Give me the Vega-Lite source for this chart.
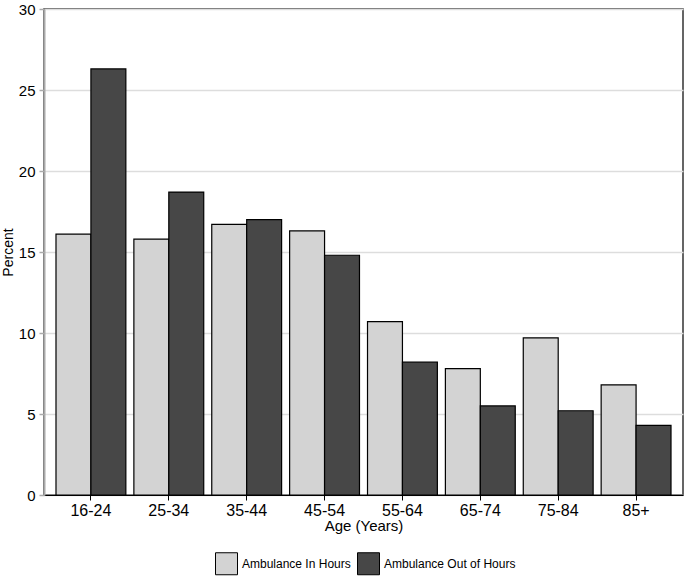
{
  "$schema": "https://vega.github.io/schema/vega-lite/v6.json",
  "autosize": "none",
  "width": 639,
  "height": 486,
  "padding": {"left": 44, "top": 9, "right": 3, "bottom": 84},
  "background": "white",
  "config": {
    "font": "Liberation Sans",
    "view": {"stroke": "#333333", "strokeWidth": 1.5}
  },
  "data": {
    "values": [
      {"age": "16-24", "group": "Ambulance In Hours", "pct": 16.1},
      {"age": "16-24", "group": "Ambulance Out of Hours", "pct": 26.3},
      {"age": "25-34", "group": "Ambulance In Hours", "pct": 15.8},
      {"age": "25-34", "group": "Ambulance Out of Hours", "pct": 18.7},
      {"age": "35-44", "group": "Ambulance In Hours", "pct": 16.7},
      {"age": "35-44", "group": "Ambulance Out of Hours", "pct": 17.0},
      {"age": "45-54", "group": "Ambulance In Hours", "pct": 16.3},
      {"age": "45-54", "group": "Ambulance Out of Hours", "pct": 14.8},
      {"age": "55-64", "group": "Ambulance In Hours", "pct": 10.7},
      {"age": "55-64", "group": "Ambulance Out of Hours", "pct": 8.2},
      {"age": "65-74", "group": "Ambulance In Hours", "pct": 7.8},
      {"age": "65-74", "group": "Ambulance Out of Hours", "pct": 5.5},
      {"age": "75-84", "group": "Ambulance In Hours", "pct": 9.7},
      {"age": "75-84", "group": "Ambulance Out of Hours", "pct": 5.2},
      {"age": "85+", "group": "Ambulance In Hours", "pct": 6.8},
      {"age": "85+", "group": "Ambulance Out of Hours", "pct": 4.3}
    ]
  },
  "mark": {"type": "bar", "stroke": "black", "strokeWidth": 1.2},
  "encoding": {
    "x": {
      "field": "age",
      "type": "nominal",
      "sort": null,
      "scale": {"paddingInner": 0.103, "paddingOuter": 0.154},
      "axis": {
        "title": "Age (Years)",
        "labelAngle": 0,
        "labelFontSize": 16,
        "labelColor": "black",
        "labelPadding": 2,
        "titleFontSize": 15,
        "titleFontWeight": "normal",
        "titleColor": "black",
        "titlePadding": 0,
        "domainColor": "black",
        "domainWidth": 1.2,
        "tickColor": "black",
        "tickSize": 5,
        "grid": false
      }
    },
    "xOffset": {
      "field": "group",
      "type": "nominal",
      "scale": {"paddingInner": 0, "paddingOuter": 0}
    },
    "y": {
      "field": "pct",
      "type": "quantitative",
      "scale": {"domain": [0, 30], "nice": false},
      "axis": {
        "title": "Percent",
        "values": [0, 5, 10, 15, 20, 25, 30],
        "labelFontSize": 15,
        "labelColor": "black",
        "labelPadding": 4,
        "titleFontSize": 14,
        "titleFontWeight": "normal",
        "titleColor": "black",
        "titlePadding": 3,
        "domainColor": "#aaaaaa",
        "domainWidth": 2,
        "tickColor": "#aaaaaa",
        "tickSize": 5,
        "tickWidth": 1.5,
        "grid": true,
        "gridColor": "#dddddd",
        "gridWidth": 1.5
      }
    },
    "fill": {
      "field": "group",
      "type": "nominal",
      "scale": {"range": ["#d3d3d3", "#474747"]},
      "legend": {
        "title": null,
        "orient": "none",
        "direction": "horizontal",
        "legendX": 171,
        "legendY": 543,
        "padding": 0,
        "symbolType": "square",
        "symbolSize": 484,
        "symbolStrokeColor": "black",
        "symbolStrokeWidth": 1,
        "symbolOpacity": 1,
        "labelFontSize": 12,
        "labelColor": "black",
        "labelOffset": 4,
        "columnPadding": 4
      }
    }
  }
}
